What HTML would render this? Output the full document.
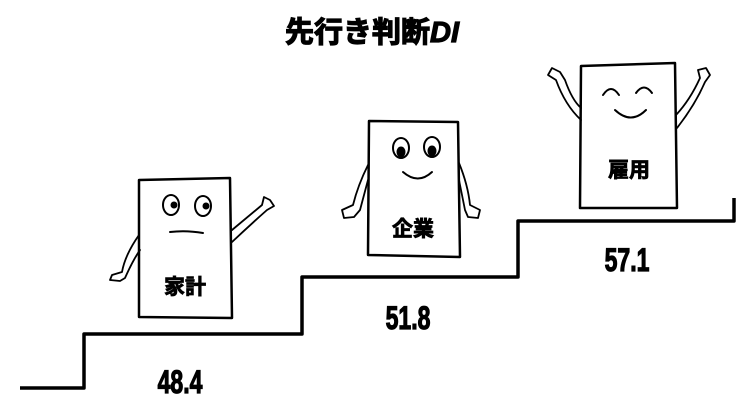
<!DOCTYPE html>
<html><head><meta charset="utf-8"><style>
body{margin:0;background:#fff;width:752px;height:416px;overflow:hidden}
svg{display:block}
.t{font-family:"Liberation Sans","Noto Sans CJK JP",sans-serif;font-weight:bold;fill:#000;stroke:#000}
</style></head><body>
<svg width="752" height="416" viewBox="0 0 752 416" xmlns="http://www.w3.org/2000/svg">
<g fill="none" stroke="#000" stroke-linecap="round" stroke-linejoin="round">
<path d="M20 388 H84 V334 H302 V277 H518 V221 H734 V198" stroke-width="3.5" stroke-linecap="butt"/>
<path d="M139 180 L230 178 L232 318 L139 317 Z" stroke-width="2.5"/>
<ellipse cx="171" cy="205" rx="8" ry="10" stroke-width="2"/>
<ellipse cx="203" cy="206" rx="8" ry="10" stroke-width="2"/>
<circle cx="174" cy="205" r="3" fill="#000"/><circle cx="206" cy="206" r="3" fill="#000"/>
<path d="M170 232 Q186 230 203 233" stroke-width="2"/>
<path d="M139 235 Q125 255 122 272 L112 275 L110 280 L120 281 L125 278 Q133 260 140 250" stroke-width="1.8"/>
<path d="M232 230 Q250 215 262 205 L264 197 L270 200 L274 206 L267 210 Q250 225 232 242" stroke-width="1.8"/>
<path d="M369 121 L458 122 L460 257 L368 255 Z" stroke-width="2.5"/>
<ellipse cx="401" cy="148" rx="8" ry="10" stroke-width="2"/>
<ellipse cx="432" cy="147" rx="8" ry="10" stroke-width="2"/>
<ellipse cx="401" cy="152" rx="4" ry="5" fill="#000"/><ellipse cx="432" cy="151" rx="4" ry="5" fill="#000"/>
<path d="M403 172 Q418 185 432 172" stroke-width="2"/>
<path d="M368 165 Q358 185 353 205 L342 210 L344 218 L354 217 L360 210 Q364 195 368 180" stroke-width="1.8"/>
<path d="M459 163 Q468 185 470 205 L480 210 L478 218 L468 217 L465 210 Q462 195 459 180" stroke-width="1.8"/>
<path d="M581 66 L675 63 L677 208 L580 208 Z" stroke-width="2.5"/>
<path d="M603 95 Q611 83 619 95" stroke-width="2"/>
<path d="M636 93 Q644 82 652 93" stroke-width="2"/>
<path d="M615 110 Q631 125 646 110" stroke-width="2"/>
<path d="M581 120 Q565 105 556 80 L548 75 L552 68 L560 72 L565 80 Q572 100 581 108" stroke-width="1.8"/>
<path d="M676 115 Q690 100 700 78 L698 70 L706 68 L710 75 L705 82 Q695 105 677 128" stroke-width="1.8"/>
</g>
<text class="t" x="372" y="42" font-size="29" stroke-width="1.2" text-anchor="middle">先行き判断<tspan font-style="italic">DI</tspan></text>
<text class="t" x="185" y="294" font-size="21" stroke-width="0.8" text-anchor="middle">家計</text>
<text class="t" x="413" y="236" font-size="21" stroke-width="0.8" text-anchor="middle">企業</text>
<text class="t" x="629" y="177" font-size="21" stroke-width="0.8" text-anchor="middle">雇用</text>
<g class="t" font-size="32" stroke-width="1.2" text-anchor="middle">
<text x="0" y="0" transform="translate(180 393) scale(0.72 1)">48.4</text>
<text x="0" y="0" transform="translate(408 329) scale(0.72 1)">51.8</text>
<text x="0" y="0" transform="translate(627 271) scale(0.72 1)">57.1</text>
</g>
</svg>
</body></html>
